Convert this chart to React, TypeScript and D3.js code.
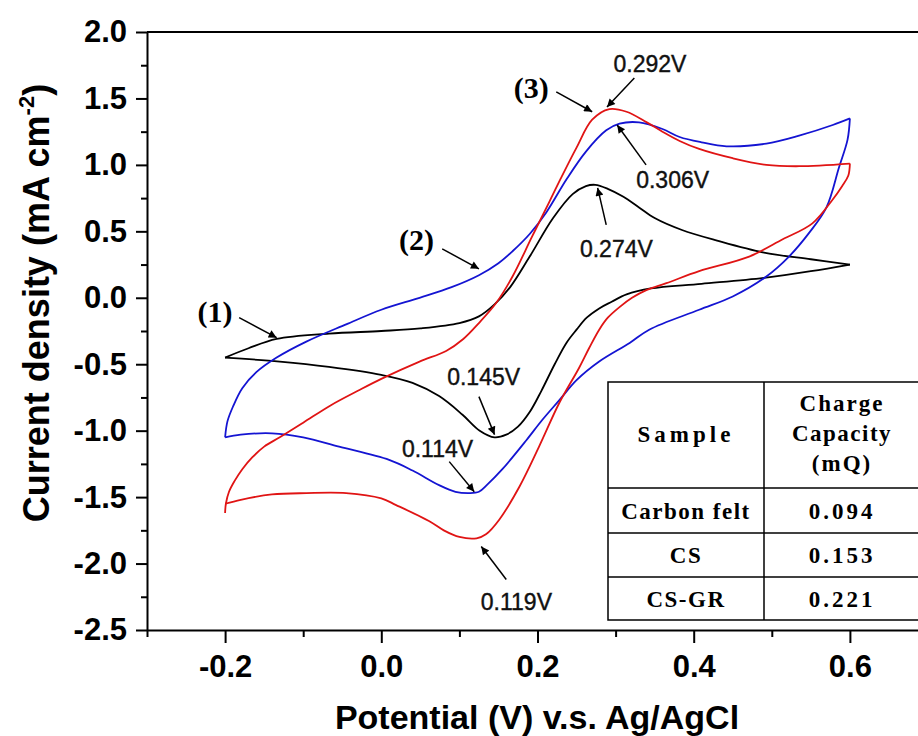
import React, { useRef, useEffect } from 'react'
import * as d3 from 'd3'

// Carbon felt (1): anodic sweep then cathodic sweep, [E (V), j (mA cm-2)]
const feltFwd = [
  [-0.2, -0.45], [-0.17, -0.38], [-0.134, -0.31], [-0.067, -0.27], [0.0, -0.25], [0.05, -0.23],
  [0.1, -0.19], [0.125, -0.14], [0.145, -0.05], [0.165, 0.08], [0.19, 0.31], [0.22, 0.6],
  [0.245, 0.78], [0.262, 0.84], [0.274, 0.85], [0.29, 0.82], [0.31, 0.76], [0.33, 0.68],
  [0.35, 0.6], [0.385, 0.51], [0.43, 0.43], [0.49, 0.34], [0.55, 0.29], [0.6, 0.25]
]
const feltRev = [
  [0.6, 0.25], [0.55, 0.2], [0.49, 0.15], [0.41, 0.105], [0.345, 0.07], [0.314, 0.025],
  [0.295, -0.03], [0.279, -0.08], [0.263, -0.15], [0.25, -0.24], [0.237, -0.34], [0.222, -0.5],
  [0.205, -0.7], [0.19, -0.86], [0.175, -0.97], [0.16, -1.03], [0.145, -1.05], [0.126, -1.0],
  [0.104, -0.88], [0.074, -0.74], [0.04, -0.64], [0.0, -0.58], [-0.067, -0.52], [-0.13, -0.48],
  [-0.2, -0.45]
]

// CS (2)
const csFwd = [
  [-0.2, -1.05], [-0.197, -0.93], [-0.19, -0.82], [-0.178, -0.68], [-0.16, -0.56], [-0.134, -0.45],
  [-0.096, -0.33], [-0.045, -0.2], [0.0, -0.09], [0.049, 0.0], [0.09, 0.08], [0.125, 0.17],
  [0.15, 0.26], [0.168, 0.35], [0.19, 0.48], [0.211, 0.64], [0.237, 0.89], [0.262, 1.1],
  [0.288, 1.26], [0.305, 1.31], [0.33, 1.32], [0.36, 1.27], [0.382, 1.21], [0.41, 1.17],
  [0.442, 1.14], [0.493, 1.16], [0.535, 1.22], [0.578, 1.3], [0.6, 1.35]
]
const csRev = [
  [0.6, 1.35], [0.597, 1.19], [0.586, 0.98], [0.57, 0.68], [0.548, 0.49], [0.522, 0.31],
  [0.493, 0.16], [0.45, 0.01], [0.407, -0.09], [0.343, -0.24], [0.318, -0.34], [0.279, -0.48],
  [0.25, -0.62], [0.228, -0.77], [0.206, -0.92], [0.186, -1.07], [0.155, -1.29], [0.135, -1.41],
  [0.125, -1.46], [0.113, -1.47], [0.095, -1.46], [0.074, -1.41], [0.04, -1.3], [0.01, -1.22],
  [-0.054, -1.12], [-0.1, -1.05], [-0.14, -1.02], [-0.18, -1.03], [-0.2, -1.05]
]

// CS-GR (3)
const csgrFwd = [
  [-0.2, -1.62], [-0.199, -1.55], [-0.195, -1.46], [-0.188, -1.38], [-0.178, -1.29], [-0.165, -1.2],
  [-0.15, -1.12], [-0.13, -1.05], [-0.1, -0.94], [-0.065, -0.81], [-0.03, -0.7], [0.0, -0.61],
  [0.049, -0.48], [0.083, -0.4], [0.105, -0.31], [0.125, -0.19], [0.147, -0.04], [0.168, 0.16],
  [0.193, 0.46], [0.215, 0.72], [0.23, 0.9], [0.25, 1.13], [0.27, 1.34], [0.292, 1.42],
  [0.314, 1.4], [0.34, 1.32], [0.36, 1.25], [0.382, 1.18], [0.407, 1.12], [0.45, 1.05],
  [0.493, 1.0], [0.535, 0.99], [0.6, 1.01]
]
const csgrRev = [
  [0.6, 1.01], [0.598, 0.92], [0.59, 0.84], [0.578, 0.74], [0.552, 0.56], [0.514, 0.44],
  [0.471, 0.31], [0.407, 0.2], [0.365, 0.11], [0.34, 0.06], [0.321, 0.0], [0.305, -0.07],
  [0.29, -0.15], [0.279, -0.24], [0.266, -0.38], [0.253, -0.53], [0.228, -0.79], [0.202, -1.12],
  [0.177, -1.42], [0.151, -1.67], [0.134, -1.78], [0.122, -1.81], [0.1, -1.8], [0.08, -1.75],
  [0.061, -1.68], [0.019, -1.56], [0.0, -1.51], [-0.045, -1.47], [-0.096, -1.47], [-0.14, -1.48],
  [-0.18, -1.52], [-0.2, -1.55]
]

const seriesColors = ['#000000', '#1414d2', '#e01414']

const xTicks = [-0.2, 0.0, 0.2, 0.4, 0.6]
const xMinor = [-0.3, -0.1, 0.1, 0.3, 0.5, 0.7]
const yTicks = [-2.5, -2.0, -1.5, -1.0, -0.5, 0.0, 0.5, 1.0, 1.5, 2.0]
const yMinor = [-2.25, -1.75, -1.25, -0.75, -0.25, 0.25, 0.75, 1.25, 1.75]

// table
const tableSamples = ['Carbon felt', 'CS', 'CS-GR']
const tableCapacity = ['0.094', '0.153', '0.221']

// curve labels and peak potentials: text, anchor, arrow start, arrow tip (data units)
const curveLabels = [
  { text: '(1)', at: [-0.213, -0.18], from: [-0.182, -0.15], to: [-0.134, -0.3] },
  { text: '(2)', at: [0.045, 0.36], from: [0.078, 0.368], to: [0.125, 0.218] },
  { text: '(3)', at: [0.192, 1.5], from: [0.224, 1.55], to: [0.27, 1.4] }
]
const peakLabels = [
  { text: '0.292V', at: [0.344, 1.7], from: [0.324, 1.654], to: [0.289, 1.436] },
  { text: '0.306V', at: [0.373, 0.827], from: [0.339, 1.0], to: [0.302, 1.3] },
  { text: '0.274V', at: [0.301, 0.308], from: [0.288, 0.549], to: [0.277, 0.827] },
  { text: '0.145V', at: [0.131, -0.654], from: [0.125, -0.744], to: [0.145, -1.03] },
  { text: '0.114V', at: [0.072, -1.195], from: [0.087, -1.233], to: [0.119, -1.459] },
  { text: '0.119V', at: [0.173, -2.346], from: [0.16, -2.12], to: [0.128, -1.872] }
]

const SANS = 'Arial, "Liberation Sans", sans-serif'
const SERIF = '"Times New Roman", "Liberation Serif", serif'

// plain hyphen for negatives, like the original figure
const fmt = (d) => d3.format('.1f')(d).replace('\u2212', '-')

function CVChart() {
  const ref = useRef<SVGSVGElement>(null)

  useEffect(() => {
    const svg = d3.select(ref.current)
    svg.selectAll('*').remove()

    const x = d3.scaleLinear().domain([-0.3, 0.7]).range([147, 928])
    const y = d3.scaleLinear().domain([-2.5, 2.0]).range([630, 32])

    svg.append('defs')
      .append('marker')
      .attr('id', 'arr')
      .attr('viewBox', '0 0 10 10')
      .attr('refX', 10)
      .attr('refY', 5)
      .attr('markerWidth', 11)
      .attr('markerHeight', 8)
      .attr('markerUnits', 'userSpaceOnUse')
      .attr('orient', 'auto')
      .append('path')
      .attr('d', 'M0,0 L10,5 L0,10 Z')
      .attr('fill', '#000')

    // top frame line
    svg.append('line')
      .attr('x1', x(-0.3)).attr('x2', 918)
      .attr('y1', y(2.0)).attr('y2', y(2.0))
      .attr('stroke', '#000').attr('stroke-width', 2)

    // axes
    const styleAxis = (g) => {
      g.select('.domain').attr('stroke-width', 2)
      g.selectAll('.tick line').attr('stroke-width', 2)
      g.selectAll('.tick text')
        .attr('font-family', SANS)
        .attr('font-weight', 'bold')
        .attr('font-size', 31)
        .attr('fill', '#000')
    }

    svg.append('g')
      .attr('transform', `translate(0, ${y(-2.5)})`)
      .call(d3.axisBottom(x).tickValues(xMinor).tickSize(7).tickFormat(() => ''))
      .call(g => g.select('.domain').remove())
      .call(styleAxis)
    svg.append('g')
      .attr('transform', `translate(0, ${y(-2.5)})`)
      .call(d3.axisBottom(x).tickValues(xTicks).tickSize(13).tickPadding(12).tickSizeOuter(0).tickFormat(fmt))
      .call(styleAxis)

    svg.append('g')
      .attr('transform', `translate(${x(-0.3)}, 0)`)
      .call(d3.axisLeft(y).tickValues(yMinor).tickSize(6).tickFormat(() => ''))
      .call(g => g.select('.domain').remove())
      .call(styleAxis)
    svg.append('g')
      .attr('transform', `translate(${x(-0.3)}, 0)`)
      .call(d3.axisLeft(y).tickValues(yTicks).tickSize(11).tickPadding(9).tickSizeOuter(0).tickFormat(fmt))
      .call(styleAxis)

    // axis titles
    svg.append('text')
      .attr('x', 537)
      .attr('y', 729)
      .attr('text-anchor', 'middle')
      .attr('font-family', SANS)
      .attr('font-weight', 'bold')
      .attr('font-size', 34)
      .text('Potential (V) v.s. Ag/AgCl')

    const yTitle = svg.append('text')
      .attr('transform', 'translate(49, 303) rotate(-90)')
      .attr('text-anchor', 'middle')
      .attr('font-family', SANS)
      .attr('font-weight', 'bold')
      .attr('font-size', 36)
    yTitle.append('tspan').text('Current density (mA cm')
    yTitle.append('tspan').attr('dy', -15).attr('font-size', 22).text('-2')
    yTitle.append('tspan').attr('dy', 15).text(')')

    // CV loops
    const line = d3.line().x(d => x(d[0])).y(d => y(d[1])).curve(d3.curveCatmullRom.alpha(0.5))
    const branches = [
      [feltFwd, feltRev], [csFwd, csRev], [csgrFwd, csgrRev]
    ]
    branches.forEach((pair, i) => {
      pair.forEach(pts => {
        svg.append('path')
          .attr('d', line(pts))
          .attr('fill', 'none')
          .attr('stroke', seriesColors[i])
          .attr('stroke-width', 1.8)
          .attr('stroke-linejoin', 'round')
      })
    })

    // annotations
    const drawArrow = (a) => {
      svg.append('line')
        .attr('x1', x(a.from[0])).attr('y1', y(a.from[1]))
        .attr('x2', x(a.to[0])).attr('y2', y(a.to[1]))
        .attr('stroke', '#000').attr('stroke-width', 1.5)
        .attr('marker-end', 'url(#arr)')
    }
    curveLabels.forEach(a => {
      drawArrow(a)
      svg.append('text')
        .attr('x', x(a.at[0])).attr('y', y(a.at[1]))
        .attr('text-anchor', 'middle')
        .attr('font-family', SERIF)
        .attr('font-weight', 'bold')
        .attr('font-size', 30)
        .text(a.text)
    })
    peakLabels.forEach(a => {
      drawArrow(a)
      svg.append('text')
        .attr('x', x(a.at[0])).attr('y', y(a.at[1]))
        .attr('text-anchor', 'middle')
        .attr('font-family', SANS)
        .attr('font-size', 23)
        .attr('fill', '#111')
        .attr('stroke', '#111')
        .attr('stroke-width', 0.4)
        .text(a.text)
    })

    // table of charge capacity
    const tx0 = 608, tx1 = 764, tx2 = 920
    const rowY = [382, 488, 533, 577, 620]
    const tbl = svg.append('g')
    tbl.append('rect')
      .attr('x', tx0).attr('y', rowY[0])
      .attr('width', tx2 - tx0).attr('height', rowY[4] - rowY[0])
      .attr('fill', '#fff').attr('stroke', '#000').attr('stroke-width', 1.5)
    tbl.append('line')
      .attr('x1', tx1).attr('x2', tx1).attr('y1', rowY[0]).attr('y2', rowY[4])
      .attr('stroke', '#000').attr('stroke-width', 1.5)
    rowY.slice(1, 4).forEach(ry => {
      tbl.append('line')
        .attr('x1', tx0).attr('x2', tx2).attr('y1', ry).attr('y2', ry)
        .attr('stroke', '#000').attr('stroke-width', 1.5)
    })
    const cell = (txt, cx, by, sp = 1.5) => tbl.append('text')
      .attr('x', cx).attr('y', by)
      .attr('text-anchor', 'middle')
      .attr('font-family', SERIF)
      .attr('font-weight', 'bold')
      .attr('font-size', 23)
      .attr('letter-spacing', sp)
      .text(txt)
    const c1 = (tx0 + tx1) / 2
    const c2 = (tx1 + tx2) / 2
    cell('Sample', c1, 442, 4)
    cell('Charge', c2, 411, 2)
    cell('Capacity', c2, 441, 1.5)
    cell('(mQ)', c2, 471, 2)
    tableSamples.forEach((s, i) => {
      const by = (rowY[i + 1] + rowY[i + 2]) / 2 + 8
      cell(s, c1, by, 1.5)
      cell(tableCapacity[i], c2, by, 3)
    })
  }, [])

  return <svg ref={ref} width={918} height={736} style={{ position: 'absolute', left: 0, top: 0, background: '#fff' }} />
}

export default function App() {
  return <CVChart />
}
